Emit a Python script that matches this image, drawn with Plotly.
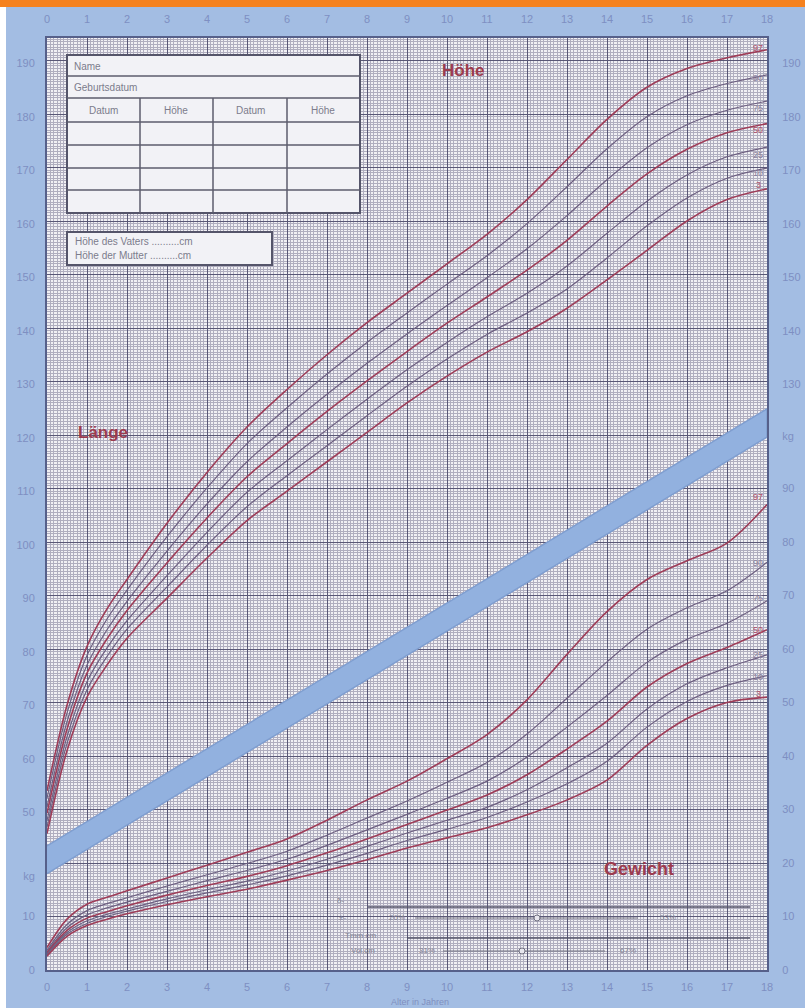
import plotly.graph_objects as go

# ---------------- data ----------------
ages = [0, 0.5, 1, 1.5, 2, 3, 4, 5, 6, 7, 8, 9, 10, 11, 12, 13, 14, 15, 16, 17, 18]

# height percentiles (cm)
h_p97 = [54, 70, 81, 88, 93.5, 104, 113.5, 122, 129, 135.5, 141.5, 147, 152.5, 158, 164.5, 172, 179.5, 185.5, 189, 191, 192.5]
h_p90 = [52.6, 68.5, 79.3, 86.1, 91.5, 101.5, 110.6, 118.9, 125.6, 131.9, 137.8, 143.3, 148.7, 154.0, 160.0, 166.9, 174.0, 180.0, 183.9, 186.2, 187.8]
h_p75 = [51.0, 66.9, 77.5, 84.1, 89.4, 98.8, 107.6, 115.5, 122.0, 128.1, 133.9, 139.4, 144.7, 149.9, 155.3, 161.5, 168.2, 174.2, 178.5, 181.2, 182.9]
h_p50 = [49.8, 65.5, 76.0, 82.4, 87.7, 96.6, 105.0, 112.7, 118.9, 124.9, 130.6, 136.1, 141.4, 146.3, 151.3, 156.9, 163.3, 169.3, 173.9, 177.0, 178.7]
h_p25 = [48.4, 64.1, 74.4, 80.7, 85.8, 94.2, 102.3, 109.8, 115.7, 121.5, 127.2, 132.7, 137.8, 142.6, 147.0, 152.1, 158.2, 164.2, 169.1, 172.5, 174.3]
h_p10 = [47.2, 62.8, 72.9, 79.1, 84.2, 92.1, 99.9, 107.1, 112.9, 118.5, 124.1, 129.6, 134.7, 139.3, 143.3, 147.8, 153.6, 159.6, 164.8, 168.5, 170.4]
h_p3 = [46, 61.5, 71.5, 77.5, 82.5, 90, 97.5, 104.5, 110, 115.5, 121, 126.5, 131.5, 136, 139.8, 144.2, 149.5, 155, 160.5, 164.5, 166.5]

# weight percentiles (kg)
w_p97 = [4.2, 9.5, 12.3, 13.6, 14.8, 17.2, 19.6, 22, 24.5, 28, 31.8, 35.3, 39.5, 44, 50.5, 59, 67, 73, 76.5, 79.8, 87]
w_p90 = [3.7, 8.5, 11.1, 12.4, 13.5, 15.7, 17.8, 19.9, 22.2, 25.2, 28.4, 31.6, 35.1, 38.8, 44.1, 50.8, 57.6, 63.7, 67.7, 70.9, 76.2]
w_p75 = [3.4, 7.9, 10.3, 11.6, 12.7, 14.7, 16.7, 18.6, 20.7, 23.3, 26.2, 29.1, 32.1, 35.3, 39.8, 45.4, 51.3, 57.5, 61.8, 64.8, 69.0]
w_p50 = [3.2, 7.4, 9.7, 10.9, 12.0, 14.0, 15.8, 17.5, 19.5, 21.9, 24.5, 27.2, 29.9, 32.7, 36.5, 41.3, 46.5, 52.9, 57.3, 60.3, 63.6]
w_p25 = [3.0, 7.0, 9.2, 10.4, 11.4, 13.3, 15.0, 16.6, 18.5, 20.7, 23.1, 25.6, 28.0, 30.4, 33.7, 37.8, 42.4, 48.8, 53.5, 56.5, 58.9]
w_p10 = [2.8, 6.7, 8.7, 10.0, 11.0, 12.8, 14.4, 15.9, 17.6, 19.6, 21.8, 24.2, 26.3, 28.5, 31.4, 34.8, 39.0, 45.4, 50.2, 53.2, 55.0]
w_p3 = [2.6, 6.3, 8.3, 9.5, 10.5, 12.2, 13.7, 15.1, 16.8, 18.6, 20.6, 22.8, 24.7, 26.6, 29, 31.8, 35.5, 42, 47, 50, 51]

percentile_names = ["97", "90", "75", "50", "25", "10", "3"]
height_label_pos = [192.8, 187.2, 181.6, 177.5, 172.8, 169.4, 167.2]
weight_label_pos = [88.5, 76.0, 69.5, 63.5, 58.9, 54.8, 51.6]

# divider band (kg scale)
band_age = [0, 18]
band_low = [18.0, 99.6]
band_high = [23.2, 104.9]

age_ticks = list(range(0, 19))
left_height_ticks = list(range(50, 200, 10))
left_weight_ticks = [0, 10, 17.6]
left_weight_text = ["0", "10", "kg"]
right_height_ticks = list(range(130, 200, 10))
right_weight_ticks = list(range(0, 100, 10))

# ---------------- geometry helpers ----------------
W, H = 805, 1008
PL, PR, PT, PB = 47, 767, 38, 970
WMAX = (PB - PT) / 5.35          # weight axis top
HOFF = 20.5                      # height cm at weight 0

def px(x):
    return (x - PL) / (PR - PL)

def py(y):
    return (PB - y) / (PB - PT)

RED = "#9e3d58"
GREY = "#6d5f80"
LBL = "#7e8fc2"
FONT = "Liberation Sans Narrow, Liberation Sans, Arial"

fig = go.Figure()

# band
fig.add_trace(go.Scatter(
    x=band_age + band_age[::-1], y=band_low + band_high[::-1],
    fill="toself", fillcolor="#92b1df", mode="lines",
    line=dict(color="#7f9ed0", width=1.5), hoverinfo="skip", showlegend=False))

h_series = [h_p97, h_p90, h_p75, h_p50, h_p25, h_p10, h_p3]
w_series = [w_p97, w_p90, w_p75, w_p50, w_p25, w_p10, w_p3]
for name, s in zip(percentile_names, h_series):
    red = name in ("97", "50", "3")
    fig.add_trace(go.Scatter(x=ages, y=s, yaxis="y2", mode="lines",
                             line=dict(color=RED if red else GREY, width=1.6 if red else 1.2, shape="spline", smoothing=0.9),
                             showlegend=False, hoverinfo="skip"))
for name, s in zip(percentile_names, w_series):
    red = name in ("97", "50", "3")
    fig.add_trace(go.Scatter(x=ages, y=s, yaxis="y", mode="lines",
                             line=dict(color=RED if red else GREY, width=1.6 if red else 1.2, shape="spline", smoothing=0.9),
                             showlegend=False, hoverinfo="skip"))

# invisible anchors so that the overlay axes are drawn
INV = dict(mode="markers", marker=dict(opacity=0, size=1), showlegend=False, hoverinfo="skip")
fig.add_trace(go.Scatter(x=[age_ticks[0]], y=[left_weight_ticks[0]], xaxis="x2", yaxis="y", **INV))
fig.add_trace(go.Scatter(x=[age_ticks[0]], y=[left_weight_ticks[0]], yaxis="y3", **INV))
fig.add_trace(go.Scatter(x=[age_ticks[0]], y=[right_weight_ticks[0]], yaxis="y4", **INV))
fig.add_trace(go.Scatter(x=[age_ticks[0]], y=[right_height_ticks[0]], yaxis="y5", **INV))

# percentile labels
ann = []
for name, yv in zip(percentile_names, height_label_pos):
    ann.append(dict(x=17.78, y=yv, yref="y2", xref="x", text=name, showarrow=False,
                    font=dict(size=9, color="#b0506a" if name in ("97", "50", "3") else "#8a809c", family=FONT)))
for name, yv in zip(percentile_names, weight_label_pos):
    ann.append(dict(x=17.78, y=yv, yref="y", xref="x", text=name, showarrow=False,
                    font=dict(size=9, color="#b0506a" if name in ("97", "50", "3") else "#8a809c", family=FONT)))

TITLE = dict(size=17, color="#9c3b4e", family="Liberation Sans, Arial")
ann.append(dict(x=10.4, y=188.7, xref="x", yref="y2", text="<b>Höhe</b>", showarrow=False, font=TITLE))
ann.append(dict(x=1.4, y=121.0, xref="x", yref="y2", text="<b>Länge</b>", showarrow=False, font=TITLE))
ann.append(dict(x=14.8, y=18.9, xref="x", yref="y", text="<b>Gewicht</b>", showarrow=False,
                font=dict(size=18, color="#9c3b4e", family="Liberation Sans, Arial")))

ann.append(dict(x=px(420), y=py(1002), xref="paper", yref="paper", xanchor="center", yanchor="middle",
                text="Alter in Jahren", showarrow=False, font=dict(size=9, color="#7f8fbf", family=FONT)))

# table texts
TT = dict(size=10, color="#7c7c8c", family="Liberation Sans, Arial")
for (xx, yy, t, xa) in [(72, 66, "Name", "left"), (72, 87, "Geburtsdatum", "left"),
                        (103, 110, "Datum", "center"), (176, 110, "Höhe", "center"),
                        (250, 110, "Datum", "center"), (323, 110, "Höhe", "center"),
                        (73, 241, "Höhe des Vaters ..........cm", "left"),
                        (73, 256, "Höhe der Mutter ..........cm", "left")]:
    ann.append(dict(x=px(xx), y=py(yy), xref="paper", yref="paper", text=t, showarrow=False,
                    xanchor=xa, yanchor="middle", font=TT))

# small info panel texts
ST = dict(size=8, color="#858596", family=FONT)
for (xx, yy, t) in [(340, 900, "δ-"), (342, 917, "±-"), (397, 917, "26%"), (668, 917, "53%"),
                    (360, 935, "Tmm cm"), (363, 950, "Vol.cm"), (427, 950, "31%"), (628, 950, "67%")]:
    ann.append(dict(x=px(xx), y=py(yy), xref="paper", yref="paper", text=t, showarrow=False,
                    xanchor="center", yanchor="middle", font=ST))

shapes = []
# orange header and white left strip
shapes.append(dict(type="rect", xref="paper", yref="paper", x0=px(0), x1=px(W), y0=py(7), y1=py(0),
                   fillcolor="#f5821f", line=dict(width=0), layer="above"))
shapes.append(dict(type="rect", xref="paper", yref="paper", x0=px(0), x1=px(6), y0=py(H), y1=py(7),
                   fillcolor="#ffffff", line=dict(width=0), layer="above"))
# table box
BOXLINE = dict(color="#5c5c6c", width=1.5)
shapes.append(dict(type="rect", xref="paper", yref="paper", x0=px(67), x1=px(360), y0=py(213), y1=py(55),
                   fillcolor="#f2f2f6", line=dict(color="#55556a", width=2), layer="above"))
for yy in [76, 98, 122, 145, 168, 190]:
    shapes.append(dict(type="line", xref="paper", yref="paper", x0=px(67), x1=px(360), y0=py(yy), y1=py(yy), line=BOXLINE))
for xx in [140, 213, 287]:
    shapes.append(dict(type="line", xref="paper", yref="paper", x0=px(xx), x1=px(xx), y0=py(98), y1=py(213), line=BOXLINE))
shapes.append(dict(type="rect", xref="paper", yref="paper", x0=px(67), x1=px(272), y0=py(265), y1=py(232),
                   fillcolor="#f2f2f6", line=dict(color="#55556a", width=2), layer="above"))
# info panel lines
for (x0, x1, yy, c, wdt) in [(368, 750, 907, "#55556a", 1.5), (407, 750, 938, "#55556a", 1.5),
                              (415, 638, 918, "#707080", 1), (443, 605, 951, "#707080", 1)]:
    shapes.append(dict(type="line", xref="paper", yref="paper", x0=px(x0), x1=px(x1), y0=py(yy), y1=py(yy),
                       line=dict(color=c, width=wdt)))
for (xx, yy) in [(537, 918), (522, 951)]:
    shapes.append(dict(type="circle", xref="paper", yref="paper", x0=px(xx - 3), x1=px(xx + 3), y0=py(yy + 3), y1=py(yy - 3),
                       line=dict(color="#707080", width=1), fillcolor="#e8e6ee"))

TICKF = dict(size=11, color=LBL, family=FONT)
NOTICK = dict(ticks="outside", tickcolor="rgba(0,0,0,0)", showgrid=False, zeroline=False, automargin=False)
fig.update_layout(
    width=W, height=H,
    margin=dict(l=PL, r=W - PR, t=PT, b=H - PB, pad=0),
    paper_bgcolor="#a3bde3", plot_bgcolor="#f1f0f4",
    showlegend=False,
    xaxis=dict(range=[0, 18], tickmode="linear", tick0=0, dtick=1, showgrid=True, gridcolor="#5a5876", gridwidth=1,
               minor=dict(dtick=1 / 12, showgrid=True, gridcolor="#b0aebf", gridwidth=1),
               zeroline=False, showline=True, mirror=True, linecolor="#56608a", linewidth=2, automargin=False,
               ticks="outside", ticklen=6, tickcolor="rgba(0,0,0,0)", tickfont=TICKF),
    xaxis2=dict(range=[0, 18], overlaying="x", side="top", anchor="y", tickmode="array", tickvals=age_ticks,
                ticklen=10, tickfont=TICKF, **NOTICK),
    yaxis=dict(range=[0, WMAX], tickmode="linear", tick0=0, dtick=10, showgrid=True, gridcolor="#5a5876", gridwidth=1,
               minor=dict(dtick=0.5, showgrid=True, gridcolor="#b0aebf", gridwidth=1), automargin=False,
               showticklabels=False, zeroline=False, showline=True, mirror=True, linecolor="#56608a", linewidth=2),
    yaxis2=dict(range=[HOFF, HOFF + WMAX], overlaying="y", side="left", anchor="x", tickmode="array",
                tickvals=left_height_ticks, ticklen=9, tickfont=TICKF, **NOTICK),
    yaxis3=dict(range=[0, WMAX], overlaying="y", side="left", anchor="x", tickmode="array",
                tickvals=left_weight_ticks, ticktext=left_weight_text, ticklen=9, tickfont=TICKF, **NOTICK),
    yaxis4=dict(range=[0, WMAX], overlaying="y", side="right", anchor="x", tickmode="array",
                tickvals=right_weight_ticks + [99.8], ticktext=[str(v) for v in right_weight_ticks] + ["kg"],
                ticklen=12, tickfont=TICKF, **NOTICK),
    yaxis5=dict(range=[HOFF, HOFF + WMAX], overlaying="y", side="right", anchor="x", tickmode="array",
                tickvals=right_height_ticks, ticklen=12, tickfont=TICKF, **NOTICK),
    annotations=ann,
    shapes=shapes,
)

fig.write_html("out.html", config={"displayModeBar": False},
               post_script="document.body.style.margin='0';document.body.style.background='#a3bde3';")
